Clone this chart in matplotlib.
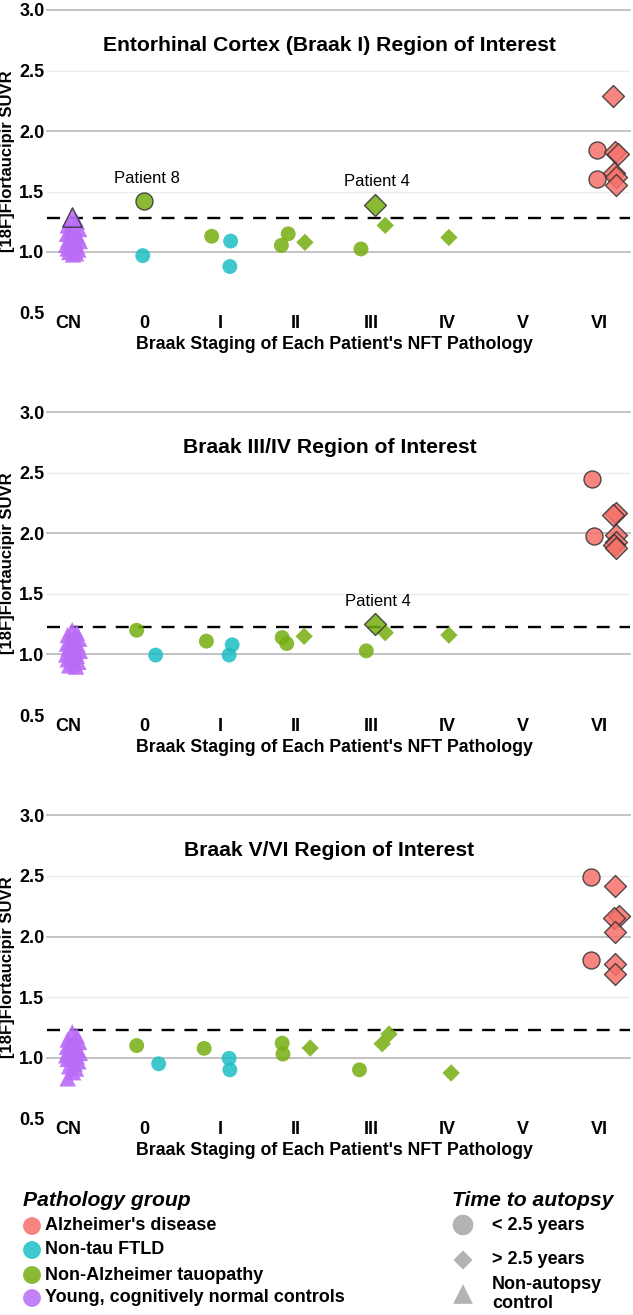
import matplotlib
matplotlib.use('Agg')
import matplotlib.pyplot as plt
import numpy as np

plt.rcParams['font.family'] = ['Liberation Sans', 'DejaVu Sans']

stages = ['CN', '0', 'I', 'II', 'III', 'IV', 'V', 'VI']
titles = ['Entorhinal Cortex (Braak I) Region of Interest',
          'Braak III/IV Region of Interest',
          'Braak V/VI Region of Interest']
cutoffs = [1.28, 1.23, 1.23]

# autopsy patients (same people in every panel)
pt_stage = ['0', '0', 'I', 'I', 'I', 'II', 'II', 'II', 'III', 'III', 'III', 'IV',
            'VI', 'VI', 'VI', 'VI', 'VI', 'VI', 'VI', 'VI']
pt_group = ['NAT', 'FTLD', 'NAT', 'FTLD', 'FTLD', 'NAT', 'NAT', 'NAT', 'NAT', 'NAT', 'NAT', 'NAT',
            'AD', 'AD', 'AD', 'AD', 'AD', 'AD', 'AD', 'AD']
pt_time = ['<', '<', '<', '<', '<', '<', '<', '>', '<', '>', '>', '>',
           '<', '<', '>', '>', '>', '>', '>', '>']
pt_name = {0: 'Patient 8', 9: 'Patient 4'}

suvr_ec = [1.42, 0.97, 1.13, 1.09, 0.88, 1.055, 1.15, 1.08, 1.025, 1.39, 1.22, 1.12,
           1.84, 1.60, 2.29, 1.83, 1.81, 1.65, 1.62, 1.55]
suvr_34 = [1.20, 0.995, 1.11, 1.08, 0.995, 1.14, 1.09, 1.15, 1.03, 1.25, 1.18, 1.16,
           2.45, 1.975, 2.17, 2.15, 1.99, 1.93, 1.90, 1.88]
suvr_56 = [1.10, 0.95, 1.077, 0.995, 0.90, 1.12, 1.03, 1.08, 0.90, 1.195, 1.115, 0.874,
           2.49, 1.806, 2.414, 2.17, 2.155, 2.04, 1.77, 1.69]

jit_ec = [0.0, -0.02, -0.11, 0.14, 0.13, -0.19, -0.10, 0.12, -0.14, 0.04, 0.18, 0.02,
          -0.03, -0.02, 0.19, 0.21, 0.25, 0.20, 0.22, 0.22]
jit_34 = [-0.10, 0.15, -0.18, 0.16, 0.12, -0.18, -0.12, 0.11, -0.07, 0.05, 0.18, 0.02,
          -0.09, -0.06, 0.22, 0.18, 0.22, 0.22, 0.20, 0.22]
jit_56 = [-0.10, 0.19, -0.21, 0.12, 0.13, -0.18, -0.17, 0.19, -0.16, 0.23, 0.14, 0.05,
          -0.10, -0.10, 0.21, 0.26, 0.20, 0.21, 0.21, 0.21]

# young cognitively normal controls
cn_ec = [1.29, 1.25, 1.22, 1.19, 1.17, 1.15, 1.13, 1.12, 1.10, 1.09, 1.08, 1.06, 1.05,
         1.04, 1.03, 1.02, 1.01, 1.00, 0.99, 0.98]
cn_34 = [1.20, 1.18, 1.16, 1.13, 1.11, 1.09, 1.08, 1.06, 1.05, 1.03, 1.02, 1.00, 0.99,
         0.97, 0.96, 0.94, 0.93, 0.91, 0.90]
cn_56 = [1.21, 1.18, 1.15, 1.13, 1.11, 1.09, 1.07, 1.06, 1.05, 1.04, 1.03, 1.02, 1.01,
         1.00, 0.99, 0.97, 0.95, 0.93, 0.91, 0.88, 0.83]
cn_jit = [0.02, 0.08, -0.04, 0.11, 0.0, -0.05, 0.09, 0.04, -0.03, 0.12, 0.06, -0.06,
          0.08, 0.01, -0.04, 0.10, 0.05, -0.02, 0.07, 0.03, -0.04]

panels = [(suvr_ec, jit_ec, cn_ec), (suvr_34, jit_34, cn_34), (suvr_56, jit_56, cn_56)]

colors = {'AD': '#F6716A', 'FTLD': '#1CBDC3', 'NAT': '#76AD10', 'CN': '#BA6CF7'}
shapes = {'<': 'o', '>': 'D', 'CN': '^'}
size_lo = {'o': 115, 'D': 78, '^': 140}
size_hi = {'o': 150, 'D': 125, '^': 195}

W, H = 633, 1315
fig = plt.figure(figsize=(W / 100, H / 100), dpi=100)

ax_px = [(10, 312.5), (412.3, 715), (815.3, 1118.3)]
left, right = 46.5, 630

for k, (top, bot) in enumerate(ax_px):
    ax = fig.add_axes([left / W, 1 - bot / H, (right - left) / W, (bot - top) / H])
    suvr, jit, cn = panels[k]
    cut = cutoffs[k]
    ax.set_xlim(-0.29, 7.41)
    ax.set_ylim(0.5, 3.0)
    yt = [0.5, 1.0, 1.5, 2.0, 2.5, 3.0]
    for t in yt[1:]:
        if t % 1 == 0:
            ax.axhline(t, color='#bdbdbd', lw=1.3, zorder=0, clip_on=False)
        else:
            ax.axhline(t, color='#ebebeb', lw=1.0, zorder=0)
    ax.axhline(cut, color='black', lw=1.7, ls=(0, (5.5, 4.2)), zorder=1)

    # controls
    for i, v in enumerate(cn):
        hi = v > cut
        ax.scatter(0.03 + cn_jit[i % len(cn_jit)], v, marker='^',
                   s=size_hi['^'] if hi else size_lo['^'],
                   color=colors['CN'], alpha=0.9, edgecolors='#333333' if hi else 'none',
                   linewidths=1.0, zorder=3 if hi else 2)
    # autopsy cases
    for i, v in enumerate(suvr):
        m = shapes[pt_time[i]]
        hi = v > cut
        x = stages.index(pt_stage[i]) + jit[i]
        ax.scatter(x, v, marker=m, s=size_hi[m] if hi else size_lo[m],
                   color=colors[pt_group[i]], alpha=0.85,
                   edgecolors='#333333' if hi else 'none', linewidths=1.0,
                   zorder=3 if hi else 2, clip_on=False)
        if hi and i in pt_name:
            ax.text(x + 0.03, v + 0.19, pt_name[i], ha='center', va='center', fontsize=12)

    ax.set_yticks(yt)
    ax.set_yticklabels(['%.1f' % t for t in yt], fontweight='bold', fontsize=13)
    ax.set_xticks(range(len(stages)))
    ax.set_xticklabels(stages, fontweight='bold', fontsize=13)
    ax.tick_params(length=0, pad=2)
    ax.tick_params(axis='y', pad=1.5)
    for s in ax.spines.values():
        s.set_visible(False)
    ax.set_ylabel('[18F]Flortaucipir SUVR', fontweight='bold', fontsize=12)
    ax.yaxis.set_label_coords(-0.054, 0.5)
    ax.text(0.485, 0.883, titles[k], transform=ax.transAxes, ha='center', va='center',
            fontsize=15.2, fontweight='bold')
    ax.text(0.494, -0.106, "Braak Staging of Each Patient's NFT Pathology", transform=ax.transAxes,
            ha='center', va='center', fontsize=12.8, fontweight='bold')

# legend
group_labels = ["Alzheimer's disease", 'Non-tau FTLD', 'Non-Alzheimer tauopathy',
                'Young, cognitively normal controls']
time_labels = ['< 2.5 years', '> 2.5 years', 'Non-autopsy\ncontrol']

lax = fig.add_axes([0, 0, 1, 1], zorder=-1)
lax.set_xlim(0, W)
lax.set_ylim(H, 0)
lax.axis('off')

lax.text(23, 1201, 'Pathology group', fontsize=15.2, fontweight='bold', style='italic', va='center')
for j, (g, lab) in enumerate(zip(['AD', 'FTLD', 'NAT', 'CN'], group_labels)):
    yy = [1226, 1250, 1275, 1298][j]
    lax.scatter(32, yy, marker='o', s=165, color=colors[g], alpha=0.85, edgecolors='none')
    lax.text(45, yy, lab, fontsize=13, fontweight='bold', va='center')

lax.text(452, 1201, 'Time to autopsy', fontsize=15.2, fontweight='bold', style='italic', va='center')
for j, (m, lab) in enumerate(zip(['o', 'D', '^'], time_labels)):
    yy = [1225, 1260, 1294][j]
    sz = {'o': 220, 'D': 95, '^': 200}[m]
    lax.scatter(463, yy, marker=m, s=sz, color='#b3b3b3', edgecolors='none')
    lax.text(492, yy, lab, fontsize=13, fontweight='bold', va='center', linespacing=1.1)

fig.savefig('out.png', dpi=100)
